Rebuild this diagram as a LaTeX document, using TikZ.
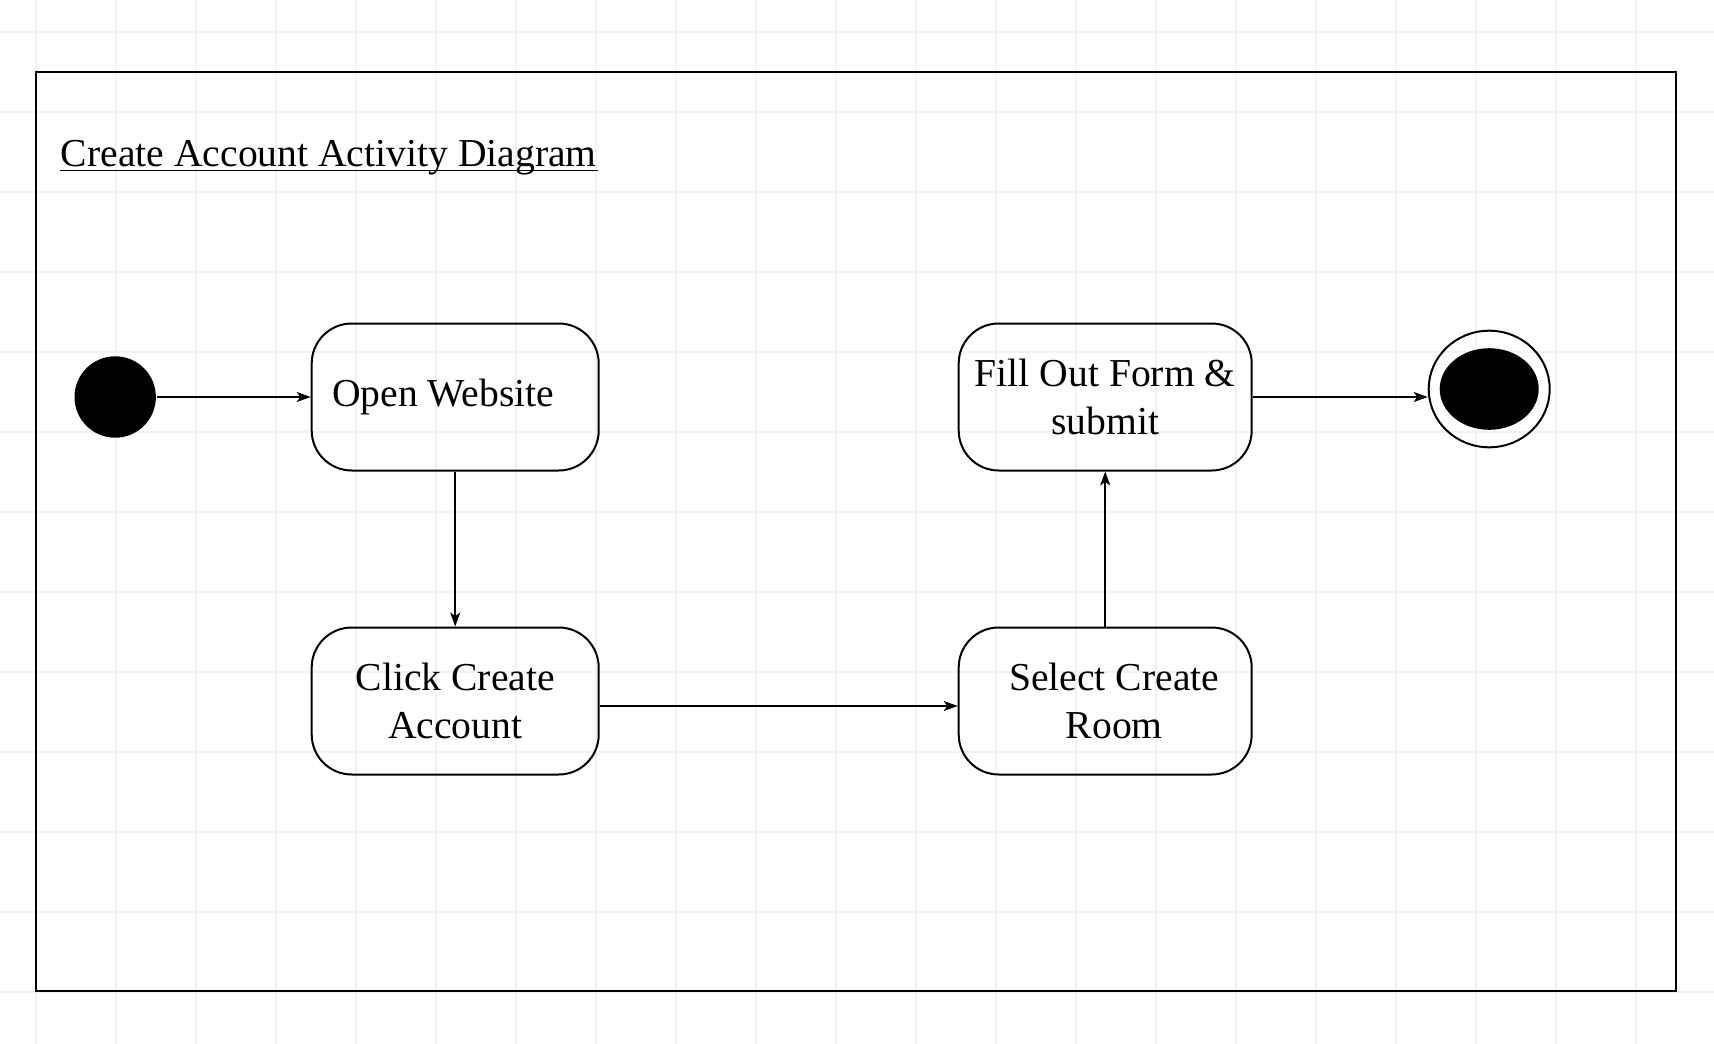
\documentclass[tikz,border=0pt]{standalone}
\usepackage{fontspec}
\setmainfont{Liberation Serif}
\usetikzlibrary{positioning,shapes.geometric,arrows.meta}

\begin{document}
\begin{tikzpicture}[x=1pt,y=1pt,on grid,line width=1pt,
	every node/.style={font=\fontsize{19.8}{24}\selectfont},
	activity/.style={draw,rounded corners=20pt,align=center,minimum width=143.5pt,minimum height=73.5pt,inner sep=2pt},
	startdot/.style={circle,fill=black,minimum size=40.7pt,inner sep=0pt},
	enddot/.style={ellipse,draw,minimum width=60.5pt,minimum height=58.3pt,inner sep=0pt},
	flow/.style={line width=0.75pt,-{Stealth[length=7pt,width=5pt,inset=1.8pt]}},
	gridline/.style={black!5,line width=0.7pt}]
	\useasboundingbox (0,0) rectangle (857,-522);
	% background grid
	\foreach \x in {18,58,...,858} \draw[gridline] (\x,0) -- (\x,-522);
	\foreach \y in {16,56,...,516} \draw[gridline] (0,-\y) -- (857,-\y);
	% frame and title
	\draw (18,-36) rectangle (838,-495.5);
	\node[anchor=base west,inner sep=0pt] (title) at (30,-83) {Create Account Activity Diagram};
	\draw[line width=0.7pt] ([yshift=-2.2pt]title.base west) -- ([yshift=-2.2pt]title.base east);
	% states
	\node[startdot] (init) at (57.6,-198.5) {};
	\node[activity] (open) [right=170pt of init] {Open Website\hspace*{12pt}};
	\node[activity] (click) [below=152pt of open] {Click Create\\Account};
	\node[activity,minimum width=146.5pt] (select) [right=325pt of click] {\hspace*{9pt}Select Create\\\hspace*{9pt}Room};
	\node[activity,minimum width=146.5pt] (fill) [above=152pt of select] {Fill Out Form \&\\submit};
	\node[enddot] (final) [right=192pt of fill,yshift=4pt] {};
	\fill (final) ellipse [x radius=24.75pt,y radius=20.4pt];
	\path[flow]
	(init) edge (open)
	(open) edge (click)
	([yshift=-2.5pt]click.east) edge ([yshift=-2.5pt]select.west)
	(select) edge (fill)
	(fill) edge (fill -| final.west)
	;
\end{tikzpicture}
\end{document}
